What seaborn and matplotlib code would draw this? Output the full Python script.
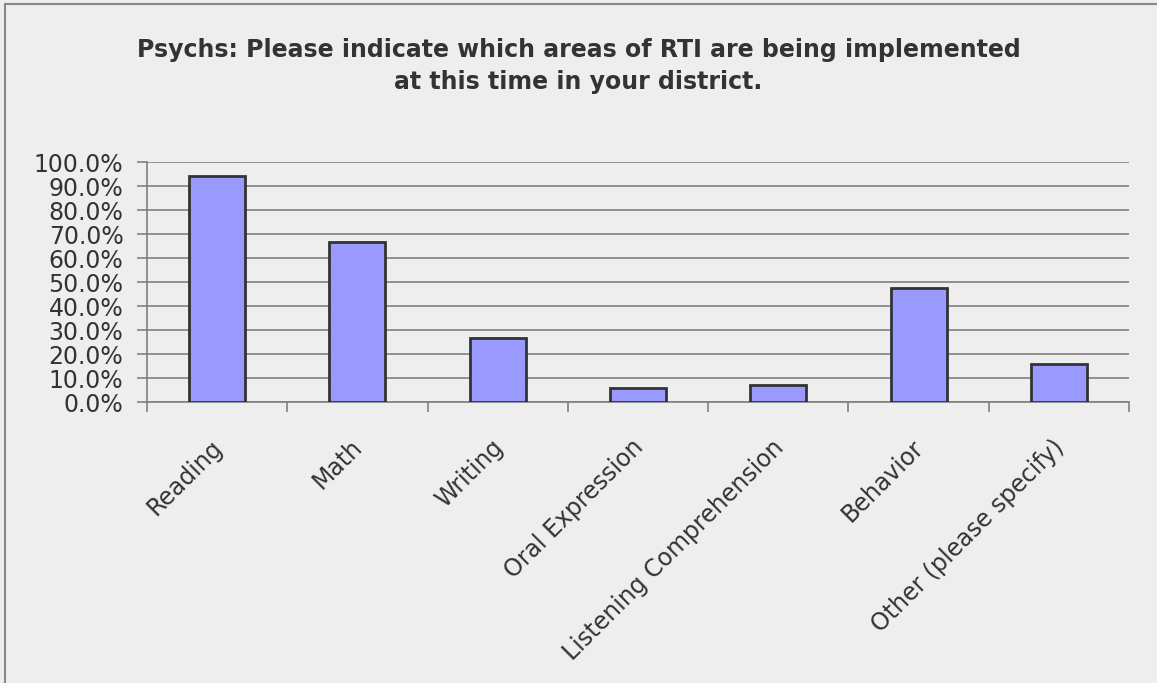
import seaborn as sns
import matplotlib.pyplot as plt
import matplotlib.transforms as mtransforms
import pandas as pd
from matplotlib.ticker import PercentFormatter, FixedLocator

# Psychs: which areas of RTI are implemented
areas = ["Reading", "Math", "Writing", "Oral Expression",
         "Listening Comprehension", "Behavior", "Other (please specify)"]
percent = [94.1, 66.6, 26.6, 6.0, 7.0, 47.3, 15.7]

df = pd.DataFrame({"area": areas, "percent": percent})

sns.set_style("white")
plt.rcParams['font.family'] = ['DejaVu Sans']

fig = plt.figure(figsize=(11.57, 6.83), dpi=100, facecolor="#eeeeee")
ax = fig.add_axes([147 / 1157, 1 - 402 / 683, 982 / 1157, 240 / 683])
ax.set_facecolor("#eeeeee")

sns.barplot(data=df, x="area", y="percent", color="#9999ff", width=0.4,
            edgecolor="#333333", linewidth=2, saturation=1, ax=ax, zorder=3)

ax.set_ylim(0, 100)
ax.set_xlim(-0.5, len(areas) - 0.5)
ax.set_yticks(range(0, 101, 10))
ax.yaxis.set_major_formatter(PercentFormatter(decimals=1))
ax.yaxis.grid(True, color="#808080", linewidth=1.2, zorder=0)
ax.set_xlabel("")
ax.set_ylabel("")

# tick marks between categories, labels at category centres
ax.xaxis.set_minor_locator(FixedLocator([i - 0.5 for i in range(len(areas) + 1)]))
ax.tick_params(axis="x", which="minor", length=7, color="#808080", width=1.2,
               direction="out", bottom=True)
ax.tick_params(axis="x", which="major", length=0, labelsize=17,
               labelcolor="#333333", pad=8)
ax.tick_params(axis="y", length=7, color="#808080", width=1.2, left=True,
               labelsize=17, labelcolor="#333333", pad=10)
shift = mtransforms.ScaledTranslation(-0.07, -0.22, fig.dpi_scale_trans)
for lab in ax.get_xticklabels():
    lab.set_rotation(45)
    lab.set_ha("right")
    lab.set_rotation_mode("anchor")
    lab.set_transform(lab.get_transform() + shift)

for s in ["top", "right"]:
    ax.spines[s].set_visible(False)
for s in ["left", "bottom"]:
    ax.spines[s].set_color("#808080")
    ax.spines[s].set_linewidth(1.2)

fig.text(0.5, 1 - 50 / 683, "Psychs: Please indicate which areas of RTI are being implemented",
         ha="center", va="center", fontsize=17, fontweight="bold", color="#333333")
fig.text(0.5, 1 - 82 / 683, "at this time in your district.",
         ha="center", va="center", fontsize=17, fontweight="bold", color="#333333")

# outer chart border (left and top)
fig.add_artist(plt.Line2D([5 / 1157, 5 / 1157], [0, 1 - 4 / 683],
                          transform=fig.transFigure, color="#888888", linewidth=1.5))
fig.add_artist(plt.Line2D([5 / 1157, 1], [1 - 4 / 683, 1 - 4 / 683],
                          transform=fig.transFigure, color="#888888", linewidth=1.5))

fig.savefig("out.png", dpi=100, facecolor=fig.get_facecolor())
